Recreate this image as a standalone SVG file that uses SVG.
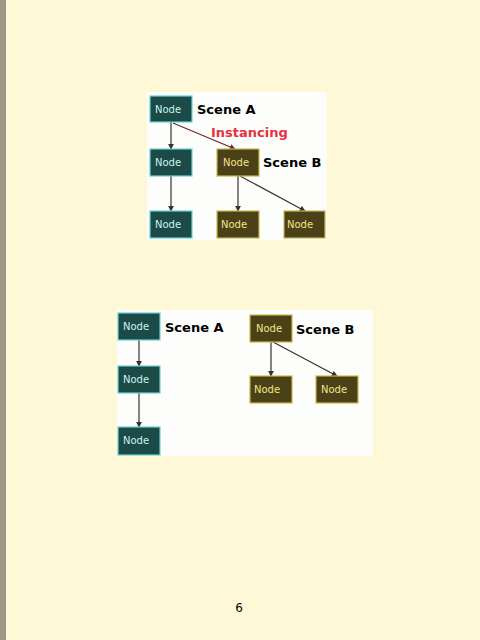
<svg xmlns="http://www.w3.org/2000/svg" width="480" height="640" viewBox="0 0 480 640">
<defs>
<marker id="ah" viewBox="0 0 8 8" refX="7" refY="4" markerWidth="6" markerHeight="6" orient="auto" markerUnits="userSpaceOnUse">
<path d="M0,0 L8,4 L0,8 z" fill="#3a3030"/>
</marker>
<marker id="ahr" viewBox="0 0 8 8" refX="7" refY="4" markerWidth="6" markerHeight="6" orient="auto" markerUnits="userSpaceOnUse">
<path d="M0,0 L8,4 L0,8 z" fill="#6a2a2a"/>
</marker>
</defs>
<style>
.a rect{fill:#1b4a47;stroke:#6cd4d4;stroke-width:1.2}
.a text{fill:#c8f4f4}
.b rect{fill:#4b4118;stroke:#c9b84c;stroke-width:1.2}
.b text{fill:#f4e488}
.n text{font-family:"DejaVu Sans",sans-serif;font-size:10px;text-anchor:middle}
.lbl{font-family:"DejaVu Sans",sans-serif;font-size:13px;font-weight:bold;fill:#000}
.e{stroke:#3a3030;stroke-width:1.2;fill:none;marker-end:url(#ah)}
.er{stroke:#6a2a2a;stroke-width:1.2;fill:none;marker-end:url(#ahr)}
</style>
<rect width="480" height="640" fill="#fff8d7"/>
<rect width="6" height="640" fill="#9d9784"/>
<rect x="147" y="92" width="180" height="148" fill="#fdfdfb"/>
<rect x="117" y="310" width="256" height="146" fill="#fdfdfb"/>
<g id="connectors">
<line class="e" x1="171" y1="122" x2="171" y2="149"/>
<line class="er" x1="173" y1="123" x2="235" y2="149"/>
<line class="e" x1="171" y1="176" x2="171" y2="211"/>
<line class="e" x1="238" y1="176" x2="238" y2="211"/>
<line class="e" x1="240" y1="176" x2="305" y2="211"/>
<line class="e" x1="139" y1="340" x2="139" y2="366"/>
<line class="e" x1="139" y1="393" x2="139" y2="427"/>
<line class="e" x1="271" y1="342" x2="271" y2="376"/>
<line class="e" x1="273" y1="342" x2="337" y2="376"/>
</g>
<g id="top-a1" class="n a"><rect x="150" y="96" width="42" height="26"/><text x="168" y="113">Node</text></g>
<g id="top-a2" class="n a"><rect x="150" y="149" width="42" height="27"/><text x="168" y="166">Node</text></g>
<g id="top-a3" class="n a"><rect x="150" y="211" width="42" height="27"/><text x="168" y="228">Node</text></g>
<g id="top-b1" class="n b"><rect x="217" y="149" width="42" height="27"/><text x="236" y="166">Node</text></g>
<g id="top-b2" class="n b"><rect x="217" y="211" width="42" height="27"/><text x="234" y="228">Node</text></g>
<g id="top-b3" class="n b"><rect x="284" y="211" width="41" height="27"/><text x="300" y="228">Node</text></g>
<text class="lbl" x="197" y="114">Scene A</text>
<text class="lbl" x="211" y="137" fill="#e8323a" style="fill:#e8323a">Instancing</text>
<text class="lbl" x="263" y="167">Scene B</text>
<g id="bot-a1" class="n a"><rect x="118" y="313" width="42" height="27"/><text x="136" y="330">Node</text></g>
<g id="bot-a2" class="n a"><rect x="118" y="366" width="42" height="27"/><text x="136" y="383">Node</text></g>
<g id="bot-a3" class="n a"><rect x="118" y="427" width="42" height="28"/><text x="136" y="444">Node</text></g>
<g id="bot-b1" class="n b"><rect x="250" y="315" width="42" height="27"/><text x="269" y="332">Node</text></g>
<g id="bot-b2" class="n b"><rect x="250" y="376" width="42" height="27"/><text x="267" y="393">Node</text></g>
<g id="bot-b3" class="n b"><rect x="316" y="376" width="42" height="27"/><text x="334" y="393">Node</text></g>
<text class="lbl" x="165" y="332">Scene A</text>
<text class="lbl" x="296" y="334">Scene B</text>
<text x="239" y="612" font-family="DejaVu Sans, sans-serif" font-size="12" text-anchor="middle" fill="#000">6</text>
</svg>
